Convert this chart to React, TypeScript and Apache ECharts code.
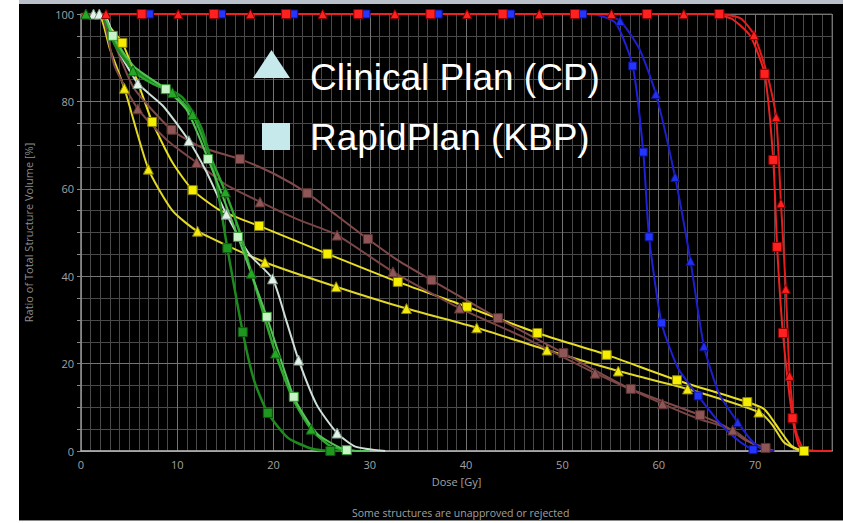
import React, { useEffect, useRef } from "react";
import * as echarts from "echarts";

// ---------- data (Dose [Gy], Volume [%]) ----------
const xTicksMax = 78;

const redCP = [[0,100],[66,100],[68.5,99],[69.9,95.2],[71.3,86],[72.2,76.4],[72.7,56.7],[73.2,37.1],[73.6,17.2],[74.2,5],[75,0.5],[76,0],[78,0]];
const redCPMarks = [[2.6,100],[10.1,100],[17.6,100],[25.1,100],[32.6,100],[40.1,100],[47.6,100],[55.1,100],[62.6,100],[69.9,95.2],[72.2,76.4],[72.7,56.7],[73.2,37.1],[73.6,17.2]];
const redKBP = [[0,100],[65,100],[67.5,99],[69.5,95],[71.0,86.3],[71.9,66.6],[72.3,46.7],[72.9,27.0],[73.9,7.5],[74.6,1],[75.5,0],[78,0]];
const redKBPMarks = [[6.3,100],[13.8,100],[21.3,100],[28.8,100],[36.3,100],[43.8,100],[51.3,100],[58.8,100],[66.3,100],[71.0,86.3],[71.9,66.6],[72.3,46.7],[72.9,27.0],[73.9,7.5]];

const blueCP = [[0,100],[54,100],[56.0,98.4],[58,92],[59.7,81.7],[61.7,62.7],[63.3,43.5],[64.7,24.0],[66.3,13],[68.2,6.6],[69.8,2],[71,0.2],[72,0]];
const blueCPMarks = [[56.0,98.4],[59.7,81.7],[61.7,62.7],[63.3,43.5],[64.7,24.0],[68.2,6.6]];
const blueKBP = [[0,100],[53,100],[55.5,98],[57.3,88.1],[58.4,68.4],[59.0,49.0],[60.3,29.3],[62,19],[64.1,12.6],[66.5,6],[68.5,2],[69.8,0.3],[70.5,0]];
const blueKBPMarks = [[7.1,100],[14.6,100],[22.1,100],[29.6,100],[37.1,100],[44.6,100],[52.1,100],[57.3,88.1],[58.4,68.4],[59.0,49.0],[60.3,29.3],[64.1,12.6],[69.8,0.3]];

const greenCP = [[0,100],[2,100],[3.5,94],[5.4,87],[7.5,84],[9.5,82],[11.6,77],[13.3,68],[15.0,59.3],[16.5,50],[17.7,40.7],[20.2,22.4],[22,12],[23.9,5.0],[26,1],[28.5,0]];
const greenCPMarks = [[0.5,100],[5.4,87],[9.5,82],[11.6,77],[15.0,59.3],[17.7,40.7],[20.2,22.4],[23.9,5.0]];
const darkGreenKBP = [[0,100],[2,100],[3.5,93],[5.3,87.5],[8,84],[10.5,81],[12.5,74],[14,62],[15.2,46.4],[16.8,27.2],[18,16],[19.4,8.7],[21.5,3],[24,0.5],[25.9,0],[27,0]];
const darkGreenKBPMarks = [[15.2,46.4],[16.8,27.2],[19.4,8.7],[25.9,0]];

const lightGreenKBP = [[0,100],[2.2,100],[3.3,95],[5.5,88],[8.8,82.8],[11,78],[13.2,66.8],[16.3,49],[19.3,30.7],[22.1,12.4],[24.5,4],[27.6,0.2],[30,0]];
const lightGreenKBPMarks = [[3.3,95],[8.8,82.8],[13.2,66.8],[16.3,49],[19.3,30.7],[22.1,12.4],[27.6,0.2]];
const whiteCP = [[0,100],[2.3,100],[3.8,92],[5.9,84.1],[8.5,79],[11.2,71],[13,64],[15.1,54.2],[17.5,45],[19.9,39.4],[21.3,30],[22.6,20.8],[24.5,10.5],[26.6,4.1],[28.5,1],[31.6,0]];
const whiteCPMarks = [[1.3,100],[1.9,100],[5.9,84.1],[11.2,71],[15.1,54.2],[19.9,39.4],[22.6,20.8],[26.6,4.1]];

const yellowCP = [[0,100],[1.8,100],[3,92],[4.5,83],[7.0,64.5],[9.5,55],[12.1,50.3],[19.1,43.2],[26.5,37.6],[33.8,32.6],[41.1,28.2],[48.4,23.1],[55.8,18.3],[63.0,14.2],[70.4,8.9],[71.8,6],[73,2],[74.5,0.3],[76.4,0]];
const yellowCPMarks = [[4.5,83],[7.0,64.5],[12.1,50.3],[19.1,43.2],[26.5,37.6],[33.8,32.6],[41.1,28.2],[48.4,23.1],[55.8,18.3],[63.0,14.2],[70.4,8.9]];
const yellowKBP = [[0,100],[2,100],[3,97],[4.3,93.4],[5.8,85],[7.4,75.3],[9.5,66],[11.6,59.7],[14.5,55],[18.5,51.5],[25.6,45.1],[32.9,38.7],[40.1,33.0],[47.4,27.0],[54.6,22.0],[61.9,16.2],[69.2,11.2],[71,9.5],[72.5,5],[73.8,1.2],[75.1,0],[76.4,0]];
const yellowKBPMarks = [[4.3,93.4],[7.4,75.3],[11.6,59.7],[18.5,51.5],[25.6,45.1],[32.9,38.7],[40.1,33.0],[47.4,27.0],[54.6,22.0],[61.9,16.2],[69.2,11.2],[75.1,0]];

const brownCP = [[0,100],[2,100],[3.5,88],[5.9,78.3],[9,71],[12,66],[15,61],[18.6,57],[22.5,53],[26.6,49.4],[32.4,41],[39.3,32.7],[45.5,26.5],[53.4,17.8],[60.4,10.8],[64,7.5],[67.7,4.8],[69.5,2],[71,0.3],[72,0]];
const brownCPMarks = [[5.9,78.3],[12,66],[18.6,57],[26.6,49.4],[32.4,41],[39.3,32.7],[53.4,17.8],[60.4,10.8],[67.7,4.8]];
const brownKBP = [[0,100],[2,100],[3.5,93],[5.5,83],[9.4,73.5],[12.5,69.5],[16.5,66.8],[20,63.5],[23.5,59],[26.5,54],[29.8,48.5],[33,43.5],[36.4,39.1],[43.3,30.4],[50.1,22.4],[57.1,14.2],[64.3,8.2],[67,5.5],[69,2.5],[71.1,0.7],[72,0]];
const brownKBPMarks = [[9.4,73.5],[16.5,66.8],[23.5,59],[29.8,48.5],[36.4,39.1],[43.3,30.4],[50.1,22.4],[57.1,14.2],[64.3,8.2],[71.1,0.7]];

const legendLabels = ["Clinical Plan (CP)", "RapidPlan (KBP)"];

// ---------- helpers ----------
function curve(name, data, color, width = 2) {
  return {
    name, type: "line", data, smooth: 0.2,
    showSymbol: false, symbol: "none",
    lineStyle: { color, width }, silent: true, z: 2,
  };
}
function marks(name, data, symbol, fill, border, size = 9) {
  return {
    name: name + " marks", type: "scatter", data, symbol,
    symbolSize: symbol === "triangle" ? size + 1 : size,
    itemStyle: { color: fill, borderColor: border, borderWidth: 1, opacity: 1 },
    silent: true, z: 3,
  };
}

export default function App() {
  const ref = useRef(null);
  useEffect(() => {
    const chart = echarts.init(ref.current, null, { renderer: "svg" });
    const labelColor = "#a3a3a3";
    const option = {
      animation: false,
      backgroundColor: "#ffffff",
      grid: { left: 81, right: 11, top: 14, bottom: 72, show: true, borderColor: "#5c5c5c", borderWidth: 1, backgroundColor: "transparent" },
      xAxis: [
        {
          type: "value", min: 0, max: xTicksMax, interval: 10, position: "bottom",
          axisLine: { show: true, onZero: false, lineStyle: { color: "#b8b8b8", width: 1.5 } },
          axisTick: { show: false },
          axisLabel: { color: labelColor, fontSize: 11, fontFamily: "Open Sans", margin: 8, showMaxLabel: false },
          splitLine: { show: true, lineStyle: { color: "#747474", width: 1 } },
          name: "Dose [Gy]", nameLocation: "middle", nameGap: 25,
          nameTextStyle: { color: labelColor, fontSize: 11, fontFamily: "Open Sans" },
          z: 1,
        },
        {
          type: "value", min: 0, max: xTicksMax, interval: 1, position: "top",
          axisLine: { show: false }, axisTick: { show: false }, axisLabel: { show: false },
          splitLine: { show: true, lineStyle: { color: "#4a4a4a", width: 1 } },
          z: 0,
        },
      ],
      yAxis: [
        {
          type: "value", min: 0, max: 100, interval: 20,
          axisLine: { show: true, lineStyle: { color: "#8a8a8a", width: 1.5 } },
          axisTick: { show: false },
          axisLabel: { color: labelColor, fontSize: 11, fontFamily: "Open Sans", margin: 7 },
          splitLine: { show: true, lineStyle: { color: "#747474", width: 1 } },
          name: "Ratio of Total Structure Volume [%]", nameLocation: "middle", nameGap: 47,
          nameTextStyle: { color: "#8c8c8c", fontSize: 11, fontFamily: "Open Sans" },
          z: 1,
        },
        {
          type: "value", min: 0, max: 100, interval: 5, position: "left",
          axisLine: { show: false },
          axisTick: { show: true, inside: false, length: 4, lineStyle: { color: "#8a8a8a" } },
          axisLabel: { show: false },
          splitLine: { show: true, lineStyle: { color: "#4a4a4a", width: 1 } },
          z: 0,
        },
      ],
      graphic: [
        { type: "rect", z: -10, shape: { x: 0, y: 0, width: 843, height: 523 }, style: { fill: "#ffffff" }, silent: true },
        { type: "rect", z: -9, shape: { x: 19, y: 0, width: 824, height: 520 }, style: { fill: "#000000" }, silent: true },
        { type: "rect", z: -8, shape: { x: 19, y: 0, width: 824, height: 4 }, style: { fill: "#b9c0c9" }, silent: true },
        { type: "rect", z: -8, shape: { x: 19, y: 520, width: 824, height: 1 }, style: { fill: "#8a8a8a" }, silent: true },
        {
          type: "text", left: 352, top: 507, z: 5,
          style: { text: "Some structures are unapproved or rejected", fill: "#a0a0a0", font: "10.5px 'Open Sans'" },
        },
        { type: "polygon", z: 10, shape: { points: [[253, 78], [290, 78], [271.5, 50]] }, style: { fill: "#c6e9ec" } },
        { type: "rect", z: 10, shape: { x: 262, y: 123, width: 28, height: 27 }, style: { fill: "#c6e9ec" } },
        { type: "text", z: 10, x: 310, y: 77, style: { text: legendLabels[0], fill: "#ffffff", font: "37px 'Liberation Sans'", verticalAlign: "middle" } },
        { type: "text", z: 10, x: 310, y: 137, style: { text: legendLabels[1], fill: "#ffffff", font: "37px 'Liberation Sans'", verticalAlign: "middle" } },
      ],
      series: [
        curve("Yellow CP", yellowCP, "#e2d82a"),
        curve("Yellow KBP", yellowKBP, "#e8df22"),
        curve("Brown CP", brownCP, "#7a4545"),
        curve("Brown KBP", brownKBP, "#80494a"),
        curve("Blue CP", blueCP, "#1e1ecc"),
        curve("Blue KBP", blueKBP, "#2020d8"),
        curve("White CP", whiteCP, "#cfe0d8"),
        curve("Green CP", greenCP, "#2fa82f", 2.5),
        curve("Dark green KBP", darkGreenKBP, "#1d8a1d", 2.5),
        curve("Light green KBP", lightGreenKBP, "#55c255"),
        curve("Red CP", redCP, "#e51c1c"),
        curve("Red KBP", redKBP, "#ee2020"),
        marks("Yellow CP", yellowCPMarks, "triangle", "#f2ea10", "#8a8000"),
        marks("Yellow KBP", yellowKBPMarks, "rect", "#f5ee00", "#8a8000"),
        marks("Brown CP", brownCPMarks, "triangle", "#8e5656", "#5a3030"),
        marks("Brown KBP", brownKBPMarks, "rect", "#8e5656", "#5a3030"),
        marks("Blue CP", blueCPMarks, "triangle", "#2030f0", "#101090", 8),
        marks("Blue KBP", blueKBPMarks, "rect", "#2236ff", "#101090", 8),
        marks("White CP", whiteCPMarks, "triangle", "#e3f3ea", "#7a9a88"),
        marks("Green CP", greenCPMarks, "triangle", "#26a826", "#105a10"),
        marks("Dark green KBP", darkGreenKBPMarks, "rect", "#1f961f", "#0e5a0e"),
        marks("Light green KBP", lightGreenKBPMarks, "rect", "#c9f3c9", "#2f9a2f"),
        marks("Red CP", redCPMarks, "triangle", "#ff2020", "#900000", 8),
        marks("Red KBP", redKBPMarks, "rect", "#ff2020", "#900000", 9),
      ],
    };
    chart.setOption(option);
    return () => chart.dispose();
  }, []);
  return <div ref={ref} style={{ position: "fixed", left: 0, top: 0, width: 843, height: 523 }} />;
}
